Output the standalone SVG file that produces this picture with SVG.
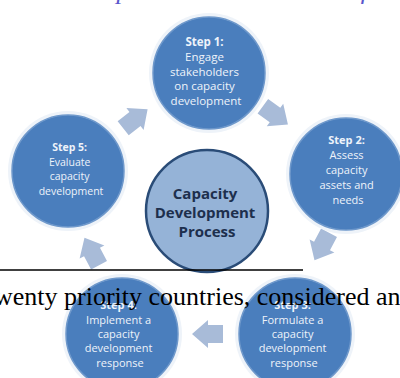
<svg xmlns="http://www.w3.org/2000/svg" width="400" height="378" viewBox="0 0 400 378">
  <style>
    .halo { fill: #eef3f9; }
    .step { fill: #4a7ebd; stroke: #6e98cb; stroke-width: 1.5; }
    .core { fill: #95b3d7; stroke: #2a4c77; stroke-width: 2.5; }
    .arrow { fill: #a8bbd8; }
    .st { font-family: "Open Sans", "Liberation Sans", sans-serif; fill: #eef3fa; text-anchor: middle; }
    .st .h { font-weight: bold; }
    .core-t { font-family: "Open Sans", "Liberation Sans", sans-serif; font-weight: bold; font-size: 15px; fill: #1d2f4d; text-anchor: middle; }
    .body { font-family: "Liberation Serif", "Times New Roman", serif; font-size: 26px; fill: #000; }
    .head { font-family: "Liberation Serif", serif; font-style: italic; font-size: 26px; fill: #5a56cc; }
  </style>
  <defs>
    <polygon id="blk" points="-15,-9 0,-9 0,-14 16,0 0,14 0,9 -15,9"/>
  </defs>

  <rect width="400" height="378" fill="#ffffff"/>

  <!-- heading line above, clipped by the top edge -->
  <text class="head" x="2" y="-1">Stewardship and the Framework of the Concep</text>

  <!-- cycle arrows -->
  <g id="connectors" class="arrow">
    <use href="#blk" transform="translate(135,119) rotate(-38)"/>
    <use href="#blk" transform="translate(275,115) rotate(36)"/>
    <use href="#blk" transform="translate(322,246) rotate(118)"/>
    <use href="#blk" transform="translate(208,334) rotate(180)"/>
    <use href="#blk" transform="translate(92,252) rotate(242)"/>
  </g>

  <g id="step1">
    <circle class="halo" cx="209" cy="73" r="60"/>
    <circle class="step" cx="209" cy="73" r="56"/>
    <text class="st" font-size="11.5">
      <tspan class="h" x="206" y="46">Step 1:</tspan>
      <tspan x="206" y="61">Engage</tspan>
      <tspan x="206" y="75.5">stakeholders</tspan>
      <tspan x="206" y="90">on capacity</tspan>
      <tspan x="206" y="104.5">development</tspan>
    </text>
  </g>

  <g id="step2">
    <circle class="halo" cx="346" cy="174" r="60"/>
    <circle class="step" cx="346" cy="174" r="56"/>
    <text class="st" font-size="11">
      <tspan class="h" x="348" y="144">Step 2:</tspan>
      <tspan x="348" y="159">Assess</tspan>
      <tspan x="348" y="174">capacity</tspan>
      <tspan x="348" y="189">assets and</tspan>
      <tspan x="348" y="204">needs</tspan>
    </text>
  </g>

  <g id="step3">
    <circle class="halo" cx="295" cy="334" r="60"/>
    <circle class="step" cx="295" cy="334" r="56"/>
    <text class="st" font-size="11">
      <tspan class="h" x="294" y="309">Step 3:</tspan>
      <tspan x="294" y="324">Formulate a</tspan>
      <tspan x="294" y="338">capacity</tspan>
      <tspan x="294" y="352">development</tspan>
      <tspan x="294" y="367">response</tspan>
    </text>
  </g>

  <g id="step4">
    <circle class="halo" cx="122" cy="334" r="60"/>
    <circle class="step" cx="122" cy="334" r="56"/>
    <text class="st" font-size="11">
      <tspan class="h" x="120" y="309">Step 4:</tspan>
      <tspan x="120" y="324">Implement a</tspan>
      <tspan x="120" y="338">capacity</tspan>
      <tspan x="120" y="352">development</tspan>
      <tspan x="120" y="367">response</tspan>
    </text>
  </g>

  <g id="step5">
    <circle class="halo" cx="68" cy="171" r="60"/>
    <circle class="step" cx="68" cy="171" r="56"/>
    <text class="st" font-size="10.5">
      <tspan class="h" x="71" y="151">Step 5:</tspan>
      <tspan x="71" y="166">Evaluate</tspan>
      <tspan x="71" y="180">capacity</tspan>
      <tspan x="71" y="195">development</tspan>
    </text>
  </g>

  <g id="core">
    <circle class="core" cx="207" cy="211" r="61"/>
    <text class="core-t">
      <tspan x="207" y="199">Capacity</tspan>
      <tspan x="207" y="218">Development</tspan>
      <tspan x="207" y="237">Process</tspan>
    </text>
  </g>

  <!-- page rule and body text printed over the figure -->
  <line x1="0" y1="270" x2="303" y2="270" stroke="#000" stroke-width="1.6"/>
  <text class="body" x="-6" y="305">wenty priority countries, considered an</text>
</svg>
